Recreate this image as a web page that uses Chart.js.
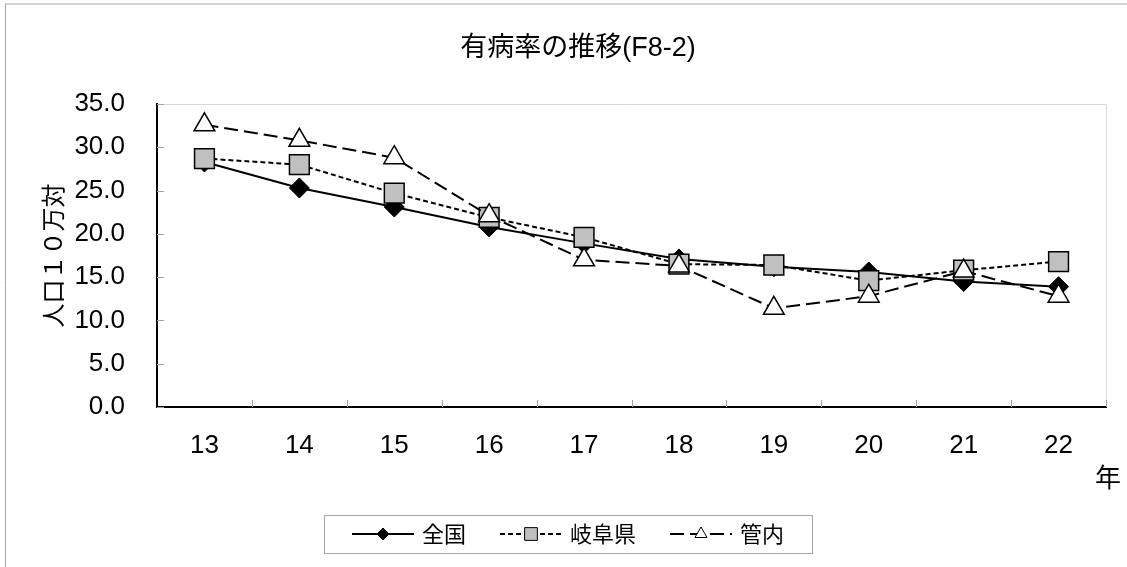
<!DOCTYPE html>
<html>
<head>
<meta charset="utf-8">
<title>有病率の推移(F8-2)</title>
<script src="https://cdn.jsdelivr.net/npm/chart.js@4.4.0/dist/chart.umd.min.js"></script>
<style>
  html, body { margin: 0; padding: 0; background: #fff; }
  #wrap { width: 1127px; height: 567px; }
</style>
</head>
<body>
<div id="wrap"><canvas id="myChart" width="1127" height="567"></canvas></div>
<script>
// data
const years = ['13', '14', '15', '16', '17', '18', '19', '20', '21', '22'];
const zenkoku = [28.3, 25.3, 23.1, 20.8, 18.9, 17.1, 16.2, 15.6, 14.5, 13.9];
const gifu = [28.7, 28.0, 24.7, 21.9, 19.6, 16.5, 16.4, 14.6, 15.8, 16.8];
const kannai = [32.6, 30.8, 28.8, 22.1, 17.0, 16.3, 11.4, 12.8, 15.7, 12.8];
const seriesNames = ['全国', '岐阜県', '管内'];
const yMin = 0, yMax = 35, yStep = 5;
const chartTitle = '有病率の推移(F8-2)';
const yTitle = '人口１０万対';
const xUnit = '年';

const CJK = '"Noto Sans CJK JP"';
const LATIN = '"Liberation Sans", "Noto Sans CJK JP"';

// outer frame + plot frame + inner tick marks
const framePlugin = {
  id: 'frame',
  beforeDraw(chart) {
    const ctx = chart.ctx;
    ctx.save();
    ctx.fillStyle = '#fff';
    ctx.fillRect(0, 0, chart.width, chart.height);
    ctx.strokeStyle = '#d4d4d4';
    ctx.lineWidth = 2;
    ctx.beginPath();
    ctx.moveTo(5, 4); ctx.lineTo(chart.width, 4);
    ctx.stroke();
    ctx.strokeStyle = '#a6a6a6';
    ctx.lineWidth = 1;
    ctx.beginPath();
    ctx.moveTo(5.5, 4); ctx.lineTo(5.5, chart.height);
    ctx.stroke();
    ctx.restore();
  },
  beforeDatasetsDraw(chart) {
    const ctx = chart.ctx;
    const a = chart.chartArea;
    const xs = chart.scales.x, ys = chart.scales.y;
    ctx.save();
    ctx.strokeStyle = '#d9d9d9';
    ctx.lineWidth = 1;
    ctx.beginPath();
    ctx.moveTo(a.left, a.top + 0.5); ctx.lineTo(a.right + 0.5, a.top + 0.5);
    ctx.lineTo(a.right + 0.5, a.bottom);
    ctx.stroke();
    ctx.strokeStyle = '#a0a0a0';
    ctx.beginPath();
    ys.ticks.forEach(t => {
      const y = Math.round(ys.getPixelForValue(t.value)) + 0.5;
      ctx.moveTo(a.left, y); ctx.lineTo(a.left + 7, y);
    });
    for (let i = 1; i <= years.length; i++) {
      const x = Math.round(xs.getPixelForValue(i - 0.5)) + 0.5;
      ctx.moveTo(x, a.bottom); ctx.lineTo(x, a.bottom - 7);
    }
    ctx.stroke();
    ctx.restore();
  }
};

function drawMarker(ctx, style, r, x, y) {
  if (Chart.helpers && Chart.helpers.drawPoint) {
    Chart.helpers.drawPoint(ctx, {pointStyle: style, radius: r, borderWidth: ctx.lineWidth, rotation: 0}, x, y);
  }
}

// boxed legend with line + marker samples
const legendPlugin = {
  id: 'boxLegend',
  afterDraw(chart) {
    const ctx = chart.ctx;
    const dsets = chart.data.datasets;
    const sampleW = 62, gap = 8, itemGap = 34, pad = 28;
    const markR = [6, 9, 7];
    ctx.save();
    ctx.font = '22px ' + CJK;
    const widths = dsets.map(d => ctx.measureText(d.label).width);
    const total = widths.reduce((s, w) => s + sampleW + gap + w, 0) + itemGap * (dsets.length - 1);
    const cx = 568, cy = 534;
    let x = cx - total / 2;
    ctx.strokeStyle = '#a6a6a6';
    ctx.lineWidth = 1;
    ctx.strokeRect(Math.round(x - pad) + 0.5, 515.5, Math.round(total + 2 * pad), 38);
    dsets.forEach((d, i) => {
      ctx.strokeStyle = '#000';
      ctx.lineWidth = 2;
      ctx.setLineDash(d.borderDash || []);
      ctx.beginPath();
      ctx.moveTo(x, cy); ctx.lineTo(x + sampleW, cy);
      ctx.stroke();
      ctx.setLineDash([]);
      ctx.fillStyle = d.pointBackgroundColor;
      ctx.strokeStyle = '#000';
      ctx.lineWidth = 1;
      drawMarker(ctx, d.pointStyle, markR[i], x + sampleW / 2, cy);
      ctx.fillStyle = '#000';
      ctx.textAlign = 'left';
      ctx.textBaseline = 'middle';
      ctx.fillText(d.label, x + sampleW + gap, cy);
      x += sampleW + gap + widths[i] + itemGap;
    });
    // unit label for the category axis
    const a = chart.chartArea;
    ctx.font = '26px ' + CJK;
    ctx.textAlign = 'center';
    ctx.fillText(xUnit, a.right + 2, a.bottom + 70);
    ctx.restore();
  }
};

const ctx = document.getElementById('myChart').getContext('2d');
new Chart(ctx, {
  type: 'line',
  data: {
    labels: years,
    datasets: [
      {
        label: seriesNames[0], data: zenkoku, order: 2,
        borderColor: '#000', borderWidth: 2, borderDash: [],
        pointStyle: 'rectRot', pointRadius: 10, pointBackgroundColor: '#000',
        pointBorderColor: '#000', pointBorderWidth: 1
      },
      {
        label: seriesNames[1], data: gifu, order: 1,
        borderColor: '#000', borderWidth: 2, borderDash: [5, 3],
        pointStyle: 'rect', pointRadius: 14, pointBackgroundColor: '#c0c0c0',
        pointBorderColor: '#000', pointBorderWidth: 1.5
      },
      {
        label: seriesNames[2], data: kannai, order: 0,
        borderColor: '#000', borderWidth: 2, borderDash: [14, 6],
        pointStyle: 'triangle', pointRadius: 12, pointBackgroundColor: '#fff',
        pointBorderColor: '#000', pointBorderWidth: 1.5
      }
    ]
  },
  options: {
    responsive: false,
    animation: false,
    events: [],
    layout: { padding: { left: 50, right: 21, top: 0, bottom: 0 } },
    elements: { line: { tension: 0, fill: false }, point: { hoverRadius: 12 } },
    plugins: {
      legend: { display: false },
      tooltip: { enabled: false },
      title: {
        display: true,
        text: chartTitle,
        color: '#000',
        font: { family: LATIN, size: 27, weight: 'normal', lineHeight: 1.2 },
        padding: { top: 32, bottom: 39.6 }
      }
    },
    scales: {
      x: {
        offset: true,
        grid: { display: false, drawTicks: false },
        border: { display: true, color: '#000', width: 2 },
        ticks: { color: '#000', font: { family: LATIN, size: 26 }, padding: 23, maxRotation: 0 },
        afterFit(scale) { scale.height = 160; }
      },
      y: {
        min: yMin, max: yMax,
        grid: { display: false, drawTicks: false },
        border: { display: true, color: '#000', width: 2 },
        ticks: {
          stepSize: yStep, color: '#000', padding: 32,
          font: { family: LATIN, size: 26 },
          callback: v => Number(v).toFixed(1)
        },
        title: {
          display: true, text: yTitle, color: '#000',
          font: { family: CJK, size: 24 },
          padding: { top: -12, bottom: 0 }
        },
        afterFit(scale) { scale.width = 107; }
      }
    }
  },
  plugins: [framePlugin, legendPlugin]
});
</script>
</body>
</html>
